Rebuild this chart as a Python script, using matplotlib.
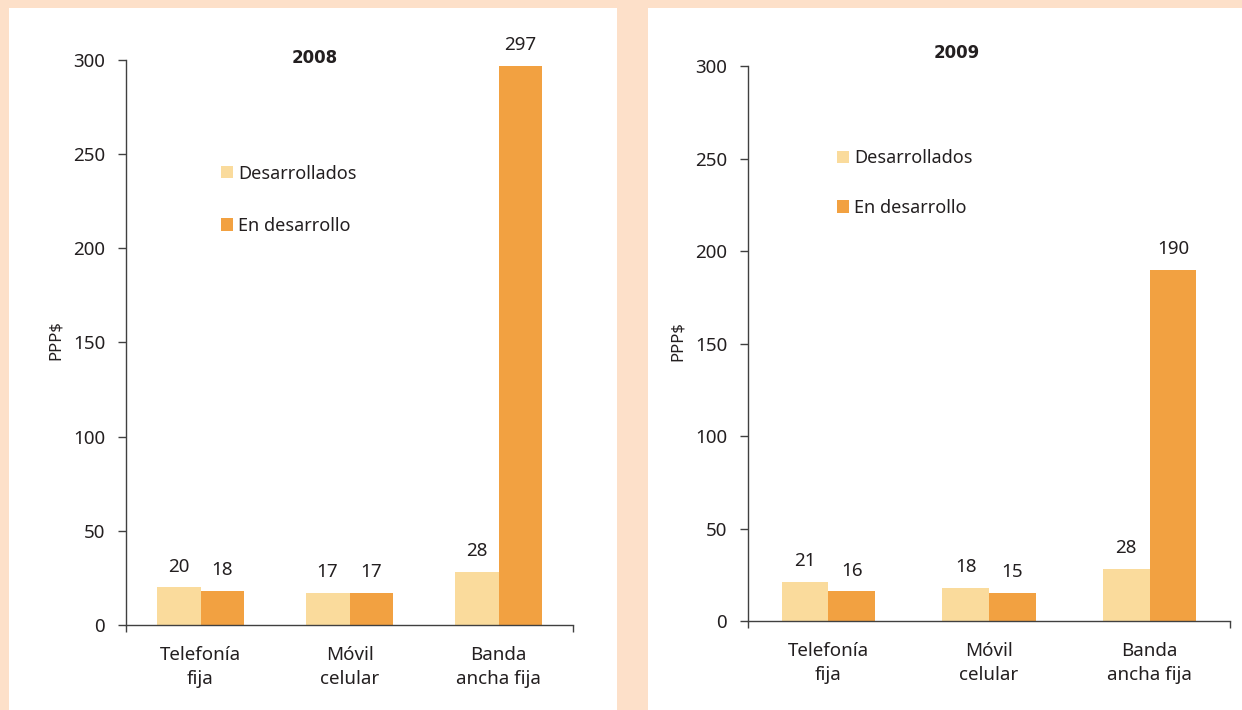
import matplotlib
matplotlib.use("Agg")
import matplotlib.pyplot as plt
from matplotlib.patches import Rectangle
import numpy as np

plt.rcParams['font.family'] = ['Noto Sans', 'DejaVu Sans']

categories = ["Telefonía\nfija", "Móvil\ncelular", "Banda\nancha fija"]
series_names = ["Desarrollados", "En desarrollo"]
dev_2008 = [20, 17, 28]
devp_2008 = [18, 17, 297]
dev_2009 = [21, 18, 28]
devp_2009 = [16, 15, 190]
yticks = [0, 50, 100, 150, 200, 250, 300]

BG = "#FDE0C9"
LIGHT = "#FADB9C"
DARK = "#F2A141"
AX = "#404040"
TXT = "#231F20"
FS = 13.5

W, H = 1242, 710
fig = plt.figure(figsize=(W / 100, H / 100), dpi=100, facecolor=BG)

# white panels behind the axes
for x0, x1 in ((9, 617), (648, W)):
    fig.patches.append(Rectangle((x0 / W, 0), (x1 - x0) / W, (H - 8) / H,
                                 transform=fig.transFigure, facecolor="white",
                                 edgecolor="none", zorder=-10))


def panel(rect, dev, devp, year, width, title_xy, leg_xy, leg_space, ylab_xy):
    ax = fig.add_axes(rect)
    ax.set_facecolor("none")
    x = np.arange(len(categories))
    b1 = ax.bar(x - width / 2, dev, width, color=LIGHT, label=series_names[0])
    b2 = ax.bar(x + width / 2, devp, width, color=DARK, label=series_names[1])
    for bars, vals in ((b1, dev), (b2, devp)):
        for r, v in zip(bars, vals):
            ax.annotate(str(v), (r.get_x() + r.get_width() / 2, r.get_height()),
                        xytext=(0, 8.5), textcoords="offset points",
                        ha="center", va="bottom", fontsize=FS, color=TXT)
    ax.set_xlim(-0.5, len(categories) - 0.5)
    ax.set_ylim(0, 300)
    ax.set_yticks(yticks)
    ax.set_xticks(x)
    ax.set_xticklabels(categories, linespacing=1.45)
    ax.set_xticks([-0.5, len(categories) - 0.5], minor=True)
    ax.tick_params(axis="x", which="major", length=0, pad=15, labelsize=FS, labelcolor=TXT)
    ax.tick_params(axis="x", which="minor", length=5, color=AX, width=1)
    ax.tick_params(axis="y", length=6, color=AX, width=1, pad=9, labelsize=FS, labelcolor=TXT)
    for s in ("top", "right"):
        ax.spines[s].set_visible(False)
    for s in ("left", "bottom"):
        ax.spines[s].set_color(AX)
        ax.spines[s].set_linewidth(1)
    ax.set_ylabel("PPP$", fontsize=12, color=TXT)
    ax.yaxis.set_label_coords(*ylab_xy)
    ax.text(title_xy[0], title_xy[1], year, transform=ax.transAxes,
            ha="center", va="center", fontsize=12, fontweight="bold",
            family="DejaVu Sans", color=TXT)
    ax.legend(loc="upper left", bbox_to_anchor=leg_xy, frameon=False,
              fontsize=13, handlelength=0.65, handleheight=0.65,
              handletextpad=0.3, labelspacing=leg_space, borderpad=0,
              borderaxespad=0, labelcolor=TXT)
    return ax


panel([126 / W, (H - 625) / H, 447 / W, 565 / H], dev_2008, devp_2008, "2008",
      0.295, (0.423, 1.003), (0.2125, 0.815), 1.9, (-0.139, 0.505))
panel([748 / W, (H - 621) / H, 482 / W, 555 / H], dev_2009, devp_2009, "2009",
      0.29, (0.434, 1.023), (0.185, 0.85), 1.75, (-0.128, 0.505))

fig.savefig("out.png", dpi=100, facecolor=BG)
